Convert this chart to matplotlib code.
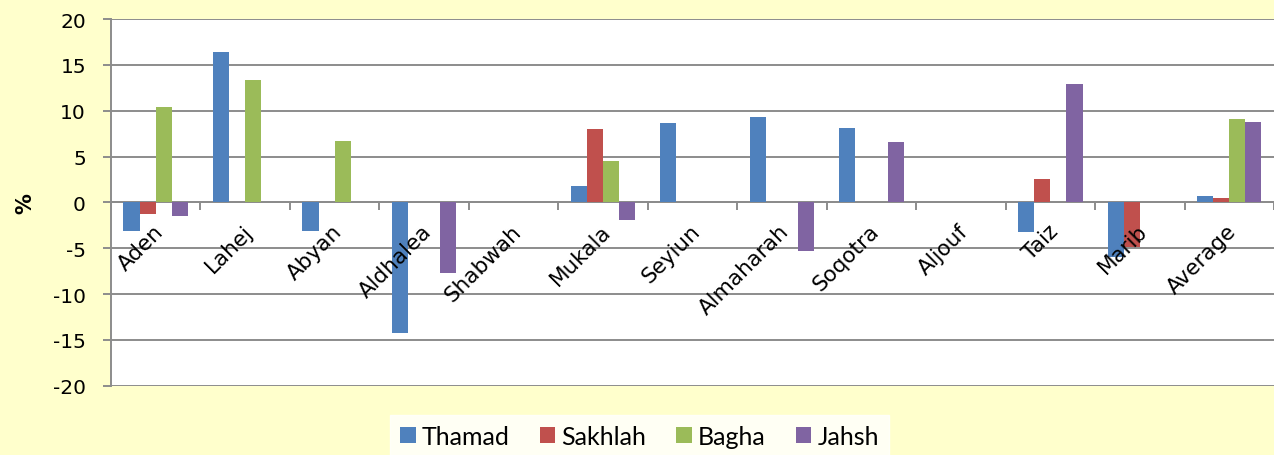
import matplotlib.pyplot as plt
import numpy as np

plt.rcParams['axes.unicode_minus'] = False

regions = ['Aden', 'Lahej', 'Abyan', 'Aldhalea', 'Shabwah', 'Mukala', 'Seyiun',
           'Almaharah', 'Soqotra', 'Aljouf', 'Taiz', 'Marib', 'Average']
thamad = [-3.1, 16.4, -3.1, -14.3, 0, 1.75, 8.7, 9.3, 8.15, 0, -3.2, -6.0, 0.65]
sakhlah = [-1.3, 0, 0, 0, 0, 8.0, 0, 0, 0, 0, 2.6, -4.9, 0.45]
bagha = [10.4, 13.3, 6.7, 0, 0, 4.55, 0, 0, 0, 0, 0, 0, 9.1]
jahsh = [-1.45, 0, 0, -7.7, 0, -1.9, 0, -5.3, 6.55, 0, 12.95, 0, 8.75]

series = [('Thamad', thamad, '#4F81BD'), ('Sakhlah', sakhlah, '#C0504D'),
          ('Bagha', bagha, '#9BBB59'), ('Jahsh', jahsh, '#8064A2')]

bg = '#FFFFCC'
grid_c = '#8C8C8C'

fig = plt.figure(figsize=(12.74, 4.56), dpi=100, facecolor=bg)
ax = fig.add_axes([0.0871, 0.152, 0.9129, 0.804])

x = np.arange(len(regions))
w = 0.18
for k, (name, vals, col) in enumerate(series):
    ax.bar(x + (k - 1.5) * w, vals, w, color=col, label=name, zorder=3)

ax.set_xlim(-0.5, len(regions) - 0.5)
ax.set_ylim(-20, 20)
ax.set_yticks(np.arange(-20, 21, 5))
ax.yaxis.grid(True, color=grid_c, linewidth=1.4, zorder=0)
ax.tick_params(axis='y', labelsize=14.5, length=6, width=1.4, color=grid_c, pad=12)

# category axis crossing at zero, ticks at category boundaries
ax.spines['bottom'].set_position(('data', 0))
ax.spines['bottom'].set_color(grid_c)
ax.spines['bottom'].set_linewidth(1.4)
ax.spines['left'].set_color(grid_c)
ax.spines['left'].set_linewidth(1.4)
ax.spines['top'].set_visible(False)
ax.spines['right'].set_visible(False)
ax.set_xticks(np.arange(-0.5, len(regions), 1.0))
ax.set_xticklabels([])
ax.tick_params(axis='x', length=6, width=1.4, color=grid_c)

for i, name in enumerate(regions):
    ax.annotate(name, xy=(i, 0), xytext=(-2, -13), textcoords='offset points',
                rotation=45, ha='right', va='top', rotation_mode='anchor',
                fontsize=15.5, zorder=5)

ax.set_ylabel('%', fontsize=15, fontweight='bold')
ax.yaxis.set_label_coords(-0.065, 0.5)

leg = fig.legend(loc='upper left', bbox_to_anchor=(390 / 1274, 0, 499 / 1274, 40 / 456),
                 mode='expand', ncol=4,
                 frameon=True, fancybox=False, edgecolor='white',
                 handlelength=0.62, handleheight=0.62, handletextpad=0.25,
                 borderpad=0.4, borderaxespad=0,
                 prop={'family': 'Lato', 'size': 18})
leg.get_frame().set_facecolor('white')

fig.savefig('out.png', dpi=100, facecolor=bg)
